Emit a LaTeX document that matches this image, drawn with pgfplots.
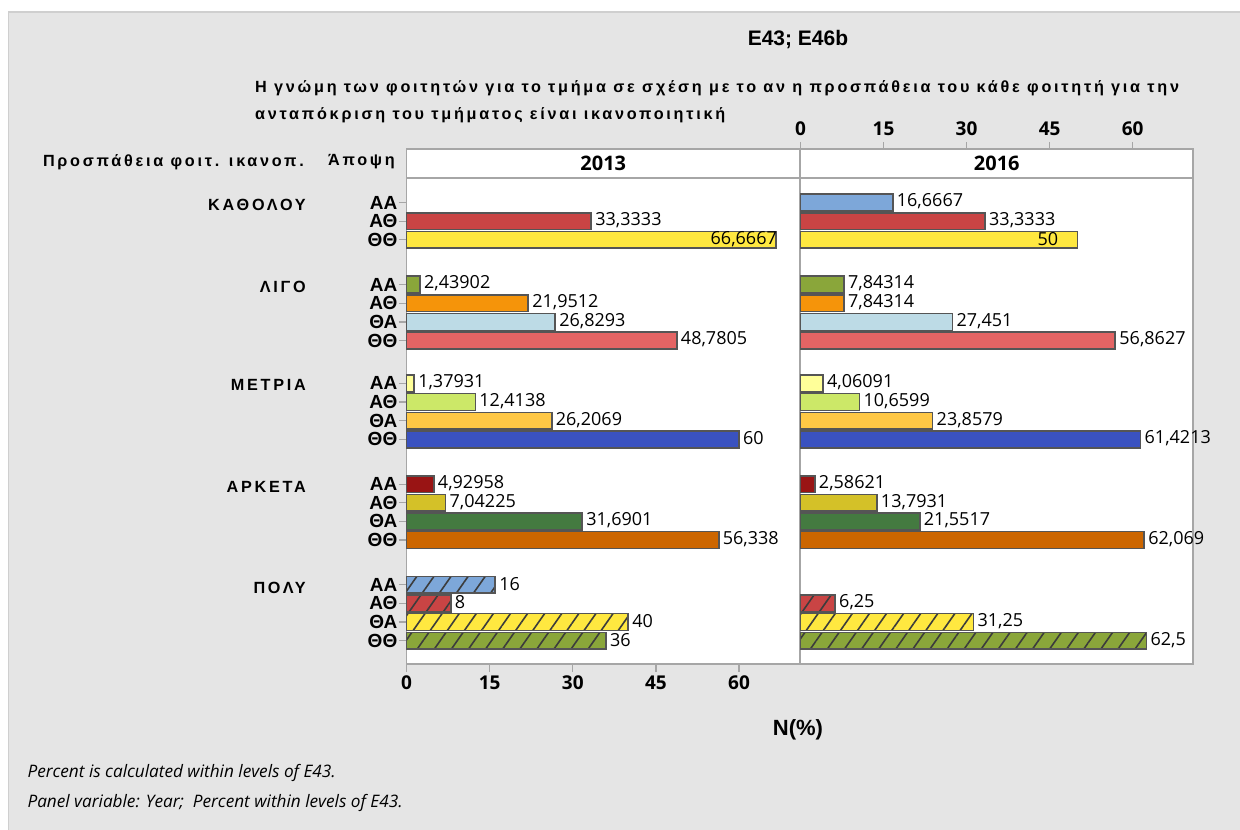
\documentclass[border=0pt]{standalone}
\usepackage{fontspec}
\setmainfont{Liberation Sans}
\newfontfamily\osans{Open Sans}
\newfontfamily\spaced{Liberation Sans}[LetterSpace=17]
\usepackage{pgfplots}
\pgfplotsset{compat=1.18}
\usetikzlibrary{patterns.meta}

\definecolor{bggray}{HTML}{E5E5E5}
\definecolor{framegray}{HTML}{CFCFCF}
\definecolor{axisgray}{HTML}{A6A6A6}
\definecolor{barline}{HTML}{555555}
\definecolor{hatchc}{HTML}{3C3C3C}
\definecolor{cltblue}{HTML}{7DA7D9}
\definecolor{cred}{HTML}{C94444}
\definecolor{cyellow}{HTML}{FFE840}
\definecolor{colive}{HTML}{8AA63A}
\definecolor{corange}{HTML}{F5940A}
\definecolor{cpaleblue}{HTML}{BDDBE6}
\definecolor{csalmon}{HTML}{E46464}
\definecolor{cpaleyel}{HTML}{FFFF99}
\definecolor{cltgreen}{HTML}{CCE868}
\definecolor{cgold}{HTML}{FFC845}
\definecolor{cblue}{HTML}{3A52C0}
\definecolor{cdarkred}{HTML}{991414}
\definecolor{cmustard}{HTML}{D4C128}
\definecolor{cgreen}{HTML}{447A40}
\definecolor{cdkorange}{HTML}{CC6600}

\pgfplotsset{
  hb/.style={bar shift=0pt, bar width=0.9, fill=#1, draw=barline, line width=1.6pt},
  hatch/.style={postaction={pattern={Lines[angle=55,distance=14pt,line width=1.6pt]}, pattern color=hatchc}},
  panel/.style={
    scale only axis, anchor=south west, height=486pt,
    xmin=0, ymin=-0.32, ymax=25.75, y dir=reverse,
    xbar, clip=false,
    axis line style={draw=axisgray, line width=1.5pt},
    axis background/.style={fill=white},
    point meta=explicit symbolic,
    nodes near coords, nodes near coords align={horizontal},
    every node near coord/.append style={font=\osans\fontsize{18}{20}\selectfont, text=black, anchor=west, yshift=1pt},
    tick align=outside, major tick length=8pt,
    tick style={draw=axisgray, line width=1.2pt},
    /pgf/number format/assume math mode=true,
  },
  header/.style={
    scale only axis, anchor=south west, height=29pt,
    xmin=0, ymin=0, ymax=1,
    axis line style={draw=axisgray, line width=1.5pt},
    axis background/.style={fill=white},
    ytick=\empty, clip=false,
    tick align=outside, major tick length=7pt,
    tick style={draw=axisgray, line width=1.2pt},
    /pgf/number format/assume math mode=true,
  },
}

\begin{document}
\begin{tikzpicture}[x=1pt,y=1pt]
\useasboundingbox (0,0) rectangle (1240,830);
\fill[white] (0,0) rectangle (1240,830);
\filldraw[fill=bggray, draw=framegray, line width=1.5pt] (8.5,-5) rectangle (1245,818);

% titles
\node[font=\bfseries\fontsize{21}{24}\selectfont] at (798,790) {E43; E46b};
\node[anchor=west, inner sep=0pt, font=\spaced\bfseries\fontsize{16.2}{19}\selectfont] at (255,742)
  {Η γνώμη των φοιτητών για το τμήμα σε σχέση με το αν η προσπάθεια του κάθε φοιτητή για την};
\node[anchor=west, inner sep=0pt, font=\spaced\bfseries\fontsize{16.2}{19}\selectfont] at (255,715)
  {ανταπόκριση του τμήματος είναι ικανοποιητική};
\node[anchor=east, inner sep=0pt, font=\spaced\bfseries\fontsize{16.2}{19}\selectfont] at (304,668) {Προσπάθεια φοιτ. ικανοπ.};
\node[anchor=east, inner sep=0pt, font=\spaced\bfseries\fontsize{16.2}{19}\selectfont] at (395,668) {Άποψη};
\foreach \g/\yy in {ΚΑΘΟΛΟΥ/625, ΛΙΓΟ/543, ΜΕΤΡΙΑ/445, ΑΡΚΕΤΑ/343, ΠΟΛΥ/242}
  \node[anchor=east, inner sep=0pt, font=\spaced\bfseries\fontsize{16.2}{19}\selectfont] at (306,\yy) {\g};

% headers
\begin{axis}[header, at={(406.5pt,652pt)}, width=393.5pt, xmax=71, xtick=\empty]
\node[font=\osans\bfseries\fontsize{20}{24}\selectfont] at (rel axis cs:0.5,0.5) {2013};
\end{axis}
\begin{axis}[header, at={(800.5pt,652pt)}, width=392.5pt, xmax=70.9,
  xtick={0,15,30,45,60}, xtick pos=upper, xticklabel pos=upper,
  xticklabel style={font=\osans\bfseries\fontsize{19}{22}\selectfont, yshift=3pt}]
\node[font=\osans\bfseries\fontsize{20}{24}\selectfont] at (rel axis cs:0.5,0.5) {2016};
\end{axis}

% 2013 panel
\begin{axis}[panel, at={(406.5pt,166pt)}, width=393.5pt, xmax=71,
  xtick={0,15,30,45,60}, xtick pos=lower,
  xticklabel style={font=\osans\bfseries\fontsize{19}{22}\selectfont},
  ytick={1,2,3,5.4,6.4,7.4,8.4,10.7,11.7,12.7,13.7,16.1,17.1,18.1,19.1,21.5,22.5,23.5,24.5},
  yticklabels={ΑΑ,ΑΘ,ΘΘ,ΑΑ,ΑΘ,ΘΑ,ΘΘ,ΑΑ,ΑΘ,ΘΑ,ΘΘ,ΑΑ,ΑΘ,ΘΑ,ΘΘ,ΑΑ,ΑΘ,ΘΑ,ΘΘ},
  ytick pos=left,
  yticklabel style={font=\bfseries\fontsize{19}{19}\selectfont, inner sep=1pt},
]
\addplot[hb=cred] coordinates {(33.3333,2) [33,3333]};
\addplot[hb=cyellow, every node near coord/.append style={anchor=east, xshift=5pt}] coordinates {(66.6667,3) [66,6667]};
\addplot[hb=colive] coordinates {(2.43902,5.4) [2,43902]};
\addplot[hb=corange] coordinates {(21.9512,6.4) [21,9512]};
\addplot[hb=cpaleblue] coordinates {(26.8293,7.4) [26,8293]};
\addplot[hb=csalmon] coordinates {(48.7805,8.4) [48,7805]};
\addplot[hb=cpaleyel] coordinates {(1.37931,10.7) [1,37931]};
\addplot[hb=cltgreen] coordinates {(12.4138,11.7) [12,4138]};
\addplot[hb=cgold] coordinates {(26.2069,12.7) [26,2069]};
\addplot[hb=cblue] coordinates {(60,13.7) [60]};
\addplot[hb=cdarkred] coordinates {(4.92958,16.1) [4,92958]};
\addplot[hb=cmustard] coordinates {(7.04225,17.1) [7,04225]};
\addplot[hb=cgreen] coordinates {(31.6901,18.1) [31,6901]};
\addplot[hb=cdkorange] coordinates {(56.338,19.1) [56,338]};
\addplot[hb=cltblue, hatch] coordinates {(16,21.5) [16]};
\addplot[hb=cred, hatch] coordinates {(8,22.5) [8]};
\addplot[hb=cyellow, hatch] coordinates {(40,23.5) [40]};
\addplot[hb=colive, hatch] coordinates {(36,24.5) [36]};
\end{axis}

% 2016 panel
\begin{axis}[panel, at={(800.5pt,166pt)}, width=392.5pt, xmax=70.9,
  xtick=\empty, ytick=\empty]
\addplot[hb=cltblue] coordinates {(16.6667,1) [16,6667]};
\addplot[hb=cred] coordinates {(33.3333,2) [33,3333]};
\addplot[hb=cyellow, every node near coord/.append style={anchor=east, xshift=-15pt}] coordinates {(50,3) [50]};
\addplot[hb=colive] coordinates {(7.84314,5.4) [7,84314]};
\addplot[hb=corange] coordinates {(7.84314,6.4) [7,84314]};
\addplot[hb=cpaleblue] coordinates {(27.451,7.4) [27,451]};
\addplot[hb=csalmon] coordinates {(56.8627,8.4) [56,8627]};
\addplot[hb=cpaleyel] coordinates {(4.06091,10.7) [4,06091]};
\addplot[hb=cltgreen] coordinates {(10.6599,11.7) [10,6599]};
\addplot[hb=cgold] coordinates {(23.8579,12.7) [23,8579]};
\addplot[hb=cblue] coordinates {(61.4213,13.7) [61,4213]};
\addplot[hb=cdarkred] coordinates {(2.58621,16.1) [2,58621]};
\addplot[hb=cmustard] coordinates {(13.7931,17.1) [13,7931]};
\addplot[hb=cgreen] coordinates {(21.5517,18.1) [21,5517]};
\addplot[hb=cdkorange] coordinates {(62.069,19.1) [62,069]};
\addplot[hb=cred, hatch] coordinates {(6.25,22.5) [6,25]};
\addplot[hb=cyellow, hatch] coordinates {(31.25,23.5) [31,25]};
\addplot[hb=colive, hatch] coordinates {(62.5,24.5) [62,5]};
\end{axis}

\node[font=\bfseries\fontsize{22}{24}\selectfont] at (798,100) {N(\%)};
\node[anchor=west, font=\osans\itshape\fontsize{17.2}{20}\selectfont] at (24,57) {Percent is calculated within levels of E43.};
\node[anchor=west, font=\osans\itshape\fontsize{17.2}{20}\selectfont] at (24,27) {Panel variable: Year;\ \ Percent within levels of E43.};
\end{tikzpicture}
\end{document}
